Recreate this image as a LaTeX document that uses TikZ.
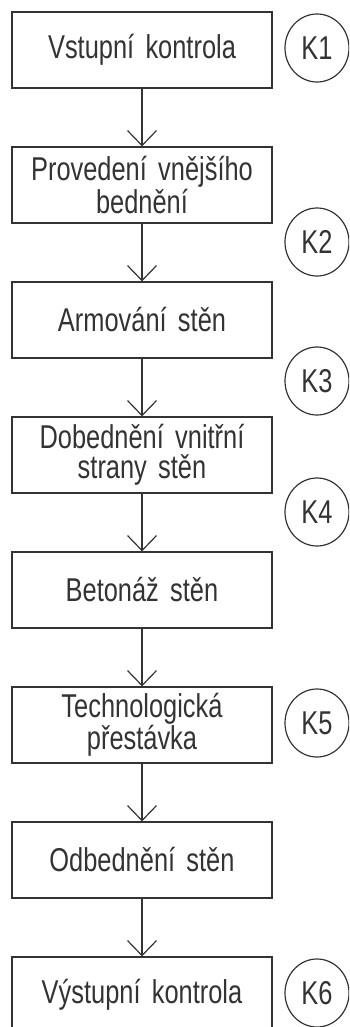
\documentclass[tikz,border=0pt]{standalone}
\usepackage{fontspec}
\setmainfont{Liberation Sans}[FakeStretch=0.77, WordSpace=1.6]
\usetikzlibrary{arrows.meta,shapes.geometric}
\definecolor{ink}{gray}{0.2}
\tikzset{
  stepbox/.style={draw=ink, line width=1.2pt, minimum width=260pt, minimum height=76pt,
    inner sep=0pt, align=center, text=ink, font=\fontsize{33}{30}\selectfont},
  ctl/.style={draw=ink, line width=1.2pt, ellipse, minimum width=64pt, minimum height=68pt,
    inner sep=0pt, text=ink, font=\fontsize{33}{30}\selectfont},
  flow/.style={draw=ink, line width=1.2pt, -{Straight Barb[length=15pt,width=29pt]}}
}
\begin{document}
\begin{tikzpicture}[x=1pt,y=-1pt]
\useasboundingbox (0,0) rectangle (349,1027);
\clip (0,0) rectangle (349,1027);
\node[stepbox] (b1) at (142,50)  {Vstupní kontrola};
\node[stepbox] (b2) at (142,185) {Provedení vnějšího\\bednění};
\node[stepbox] (b3) at (142,320) {Armování stěn};
\node[stepbox] (b4) at (142,455) {Dobednění vnitřní\\strany stěn};
\node[stepbox] (b5) at (142,590) {Betonáž stěn};
\node[stepbox] (b6) at (142,725) {Technologická\\přestávka};
\node[stepbox] (b7) at (142,860) {Odbednění stěn};
\node[stepbox] (b8) at (142,995) {Výstupní kontrola};
\node[ctl] (k1) at (317,48)  {K1};
\node[ctl] (k2) at (317,242) {K2};
\node[ctl] (k3) at (317,381) {K3};
\node[ctl] (k4) at (317,512) {K4};
\node[ctl] (k5) at (317,723) {K5};
\node[ctl] (k6) at (317,993) {K6};
\draw[flow] (b1) -- (b2);
\draw[flow] (b2) -- (b3);
\draw[flow] (b3) -- (b4);
\draw[flow] (b4) -- (b5);
\draw[flow] (b5) -- (b6);
\draw[flow] (b6) -- (b7);
\draw[flow] (b7) -- (b8);
\end{tikzpicture}
\end{document}
